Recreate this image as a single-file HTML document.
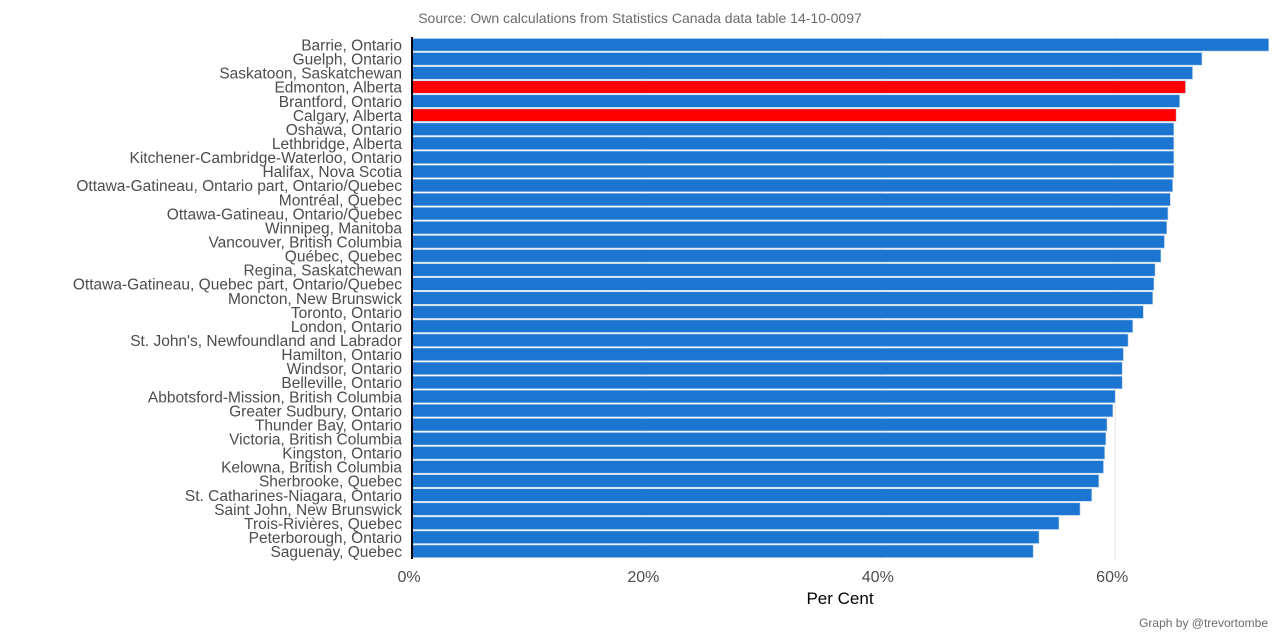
<!DOCTYPE html>
<html><head><meta charset="utf-8"><style>
body{margin:0;background:#fff;font-family:"Liberation Sans",sans-serif;}
</style></head><body>
<svg id="chart" width="1280" height="639" xmlns="http://www.w3.org/2000/svg">
<text x="640" y="23" text-anchor="middle" font-size="14" fill="#6b6b6b">Source: Own calculations from Statistics Canada data table 14-10-0097</text>
<g id="grid"></g><g id="bars"></g><g id="labels"></g><g id="ticks"></g>
<line x1="412" y1="37" x2="412" y2="559" stroke="#000" stroke-width="2"/>
<text x="840" y="604" text-anchor="middle" font-size="17" fill="#000">Per Cent</text>
<text x="1268" y="627" text-anchor="end" font-size="12" fill="#6b6b6b">Graph by @trevortombe</text>
</svg>
<script>
const categories=["Barrie, Ontario","Guelph, Ontario","Saskatoon, Saskatchewan","Edmonton, Alberta","Brantford, Ontario","Calgary, Alberta","Oshawa, Ontario","Lethbridge, Alberta","Kitchener-Cambridge-Waterloo, Ontario","Halifax, Nova Scotia","Ottawa-Gatineau, Ontario part, Ontario/Quebec","Montréal, Quebec","Ottawa-Gatineau, Ontario/Quebec","Winnipeg, Manitoba","Vancouver, British Columbia","Québec, Quebec","Regina, Saskatchewan","Ottawa-Gatineau, Quebec part, Ontario/Quebec","Moncton, New Brunswick","Toronto, Ontario","London, Ontario","St. John's, Newfoundland and Labrador","Hamilton, Ontario","Windsor, Ontario","Belleville, Ontario","Abbotsford-Mission, British Columbia","Greater Sudbury, Ontario","Thunder Bay, Ontario","Victoria, British Columbia","Kingston, Ontario","Kelowna, British Columbia","Sherbrooke, Quebec","St. Catharines-Niagara, Ontario","Saint John, New Brunswick","Trois-Rivières, Quebec","Peterborough, Ontario","Saguenay, Quebec"];
const values=[73.1,67.4,66.6,66.0,65.5,65.2,65.0,65.0,65.0,65.0,64.9,64.7,64.5,64.4,64.2,63.9,63.4,63.3,63.2,62.4,61.5,61.1,60.7,60.6,60.6,60.0,59.8,59.3,59.2,59.1,59.0,58.6,58.0,57.0,55.2,53.5,53.0];
const highlight=["Edmonton, Alberta","Calgary, Alberta"];
const ticks=[0,20,40,60];
const tickLabels=["0%","20%","40%","60%"];
const NS="http://www.w3.org/2000/svg";
const x=v=>412+v*11.72;
const step=14.07, top0=38;
const y=i=>top0+i*step;
function mk(t,a,p){const e=document.createElementNS(NS,t);for(const k in a)e.setAttribute(k,a[k]);document.getElementById(p).appendChild(e);return e;}
ticks.forEach((t,i)=>{
 if(t>0){const g=mk('line',{x1:x(t),x2:x(t),y1:37,y2:559,stroke:'#e3e3e3','stroke-width':1},'grid');
 
 }
 const tl=mk('text',{x:x(t)-3,y:582,'text-anchor':'middle','font-size':'16',fill:'#4d4d4d'},'ticks');
 tl.textContent=tickLabels[i];
 
 
});
categories.forEach((c,i)=>{
 const r=mk('rect',{x:412,y:y(i)+0.5,width:x(values[i])-412,height:step-1.5,fill:highlight.includes(c)?'#ff0000':'#1c75d0',stroke:'#b9d2ef','stroke-width':0.6},'bars');
 
 
 const t=mk('text',{x:402,y:y(i)+step/2+5.5,'text-anchor':'end','font-size':'15.5',fill:'#4d4d4d'},'labels');
 t.textContent=c;
 
 
});
</script>
</body></html>
